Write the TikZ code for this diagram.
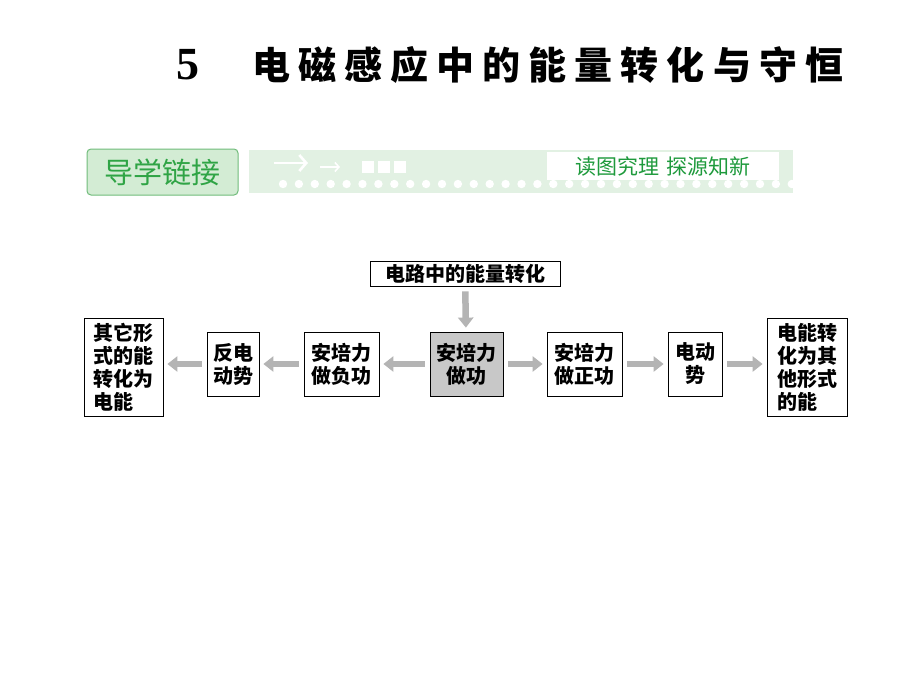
\documentclass[tikz,border=0pt]{standalone}
\usepackage{fontspec}
\setmainfont{Liberation Serif}
\newfontfamily\cjk{Noto Sans CJK SC}
\usetikzlibrary{arrows.meta}
\definecolor{bannerfill}{HTML}{D3ECD4}
\definecolor{bannerline}{HTML}{70BC7A}
\definecolor{bandfill}{HTML}{E2F1E3}
\definecolor{bannertext}{HTML}{2FA445}
\definecolor{mottotext}{HTML}{1E9A3C}
\definecolor{arrowgray}{HTML}{B4B4B4}
\definecolor{centerfill}{HTML}{C8C8C8}
\tikzset{
  box/.style={draw=black, line width=0.8pt, fill=white, inner sep=0pt, font=\cjk\bfseries\fontsize{20}{23}\selectfont},
  grayarrow/.style={draw=arrowgray, line width=6.5pt, -{Triangle[width=15pt,length=10pt]}, shorten <=5pt, shorten >=4pt},
  titlechar/.style={font=\cjk\bfseries\fontsize{38}{40}\selectfont, inner sep=0pt}
}
\begin{document}
\begin{tikzpicture}[x=1pt,y=-1pt]
\useasboundingbox[fill=white] (0,0) rectangle (920,690);
% title
\node[font=\bfseries\fontsize{46}{46}\selectfont, inner sep=0pt] (num) at (188,65) {5};
\foreach \ch [count=\i from 0] in {电,磁,感,应,中,的,能,量,转,化,与,守,恒}{
  \node[titlechar] (t\i) at (271+\i*46.1,65) {\ch};
}
% banner
\node[draw=bannerline, fill=bannerfill, rounded corners=4pt, line width=1pt, minimum width=151pt, minimum height=46pt, inner sep=0pt, text=bannertext, font=\cjk\fontsize{29}{30}\selectfont] (guide) at (162.5,172) {导学链接};
\node[fill=bandfill, minimum width=544pt, minimum height=43pt, inner sep=0pt] (band) at (521,171.5) {};
\foreach \i in {0,...,32}{
  \fill[white] (283+\i*15.9,184) circle (4.2);
}
\draw[white, line width=2.6pt, -{Straight Barb[length=7pt,width=16pt]}] (274,163) -- (308,163);
\draw[white, line width=1.6pt, -{Straight Barb[length=4pt,width=9pt]}] (320,167) -- (340,167);
\foreach \i in {0,1,2}{
  \fill[white] (362+\i*16,161) rectangle +(12,12);
}
\node[fill=white, minimum width=232pt, minimum height=28pt, inner sep=0pt, text=mottotext, font=\cjk\fontsize{21}{22}\selectfont] (motto) at (663,166) {读图究理\hspace{8pt}探源知新};
% diagram
\node[box, minimum width=190pt, minimum height=25pt] (top) at (465,273.5) {电路中的能量转化};
\node[box, fill=centerfill, minimum width=73pt, minimum height=64pt, align=center] (c) at (466.5,364) {安培力\\做功};
\node[box, minimum width=75pt, minimum height=64pt, align=center] (r1) at (584.5,364) {安培力\\做正功};
\node[box, minimum width=54pt, minimum height=64pt, align=center] (r2) at (695,364) {电动\\势};
\node[box, minimum width=80pt, minimum height=98pt, align=left] (r3) at (807,367) {电能转\\化为其\\他形式\\的能};
\node[box, minimum width=75pt, minimum height=64pt, align=center] (l1) at (341.5,364) {安培力\\做负功};
\node[box, minimum width=52pt, minimum height=64pt, align=center] (l2) at (233,364) {反电\\动势};
\node[box, minimum width=79pt, minimum height=98pt, align=left] (l3) at (123.5,367) {其它形\\式的能\\转化为\\电能};
% arrows
\draw[grayarrow] (top) -- (c);
\draw[grayarrow] (c) -- (r1);
\draw[grayarrow] (r1) -- (r2);
\draw[grayarrow] (r2.east) -- (r2.east -| r3.west);
\draw[grayarrow] (c) -- (l1);
\draw[grayarrow] (l1) -- (l2);
\draw[grayarrow] (l2.west) -- (l2.west -| l3.east);
\end{tikzpicture}
\end{document}
